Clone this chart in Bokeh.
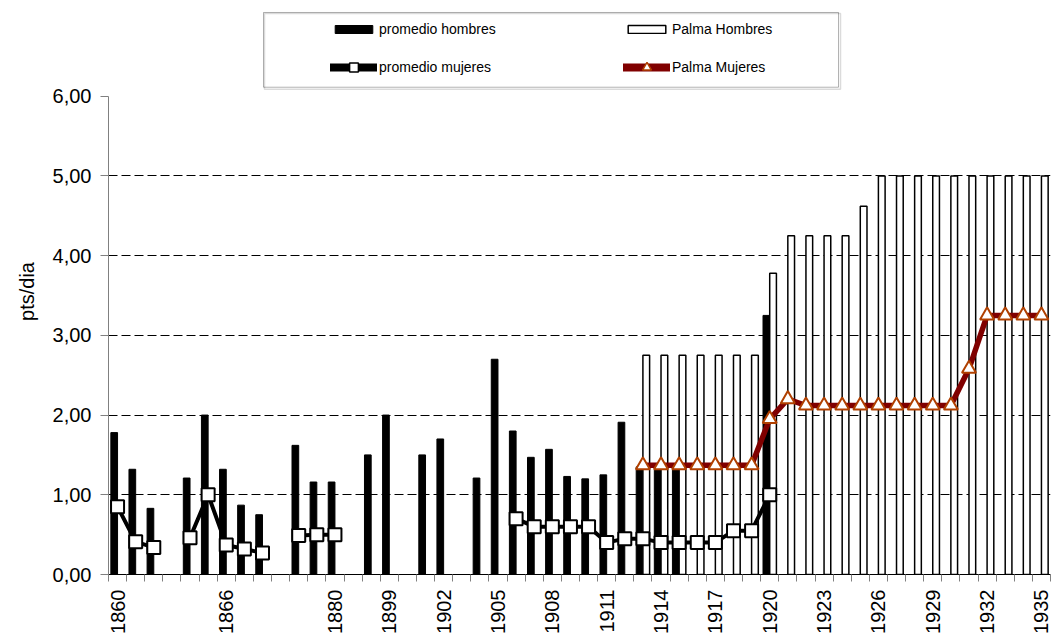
import math
from bokeh.plotting import figure
from bokeh.models import (ColumnDataSource, FixedTicker, Legend, LegendItem,
                          BoxAnnotation, Range1d)
from bokeh.transform import dodge
from bokeh.embed import file_html
from bokeh.resources import INLINE

nan = float("nan")

# ---------------- data ----------------
years = ["1860", "1861", "1862", "", "1864", "1865", "1866", "1867", "1868", "",
         "1878", "1879", "1880", "",
         "1898", "1899", "1900", "1901", "1902", "1903", "1904", "1905", "1906",
         "1907", "1908", "1909", "1910", "1911", "1912", "1913", "1914", "1915",
         "1916", "1917", "1918", "1919", "1920", "1921", "1922", "1923", "1924",
         "1925", "1926", "1927", "1928", "1929", "1930", "1931", "1932", "1933",
         "1934", "1935"]

promedio_hombres = [1.78, 1.32, 0.83, None, 1.21, 2.00, 1.32, 0.87, 0.75, None,
                    1.62, 1.16, 1.16, None,
                    1.50, 2.00, None, 1.50, 1.70, None, 1.21, 2.70, 1.80,
                    1.47, 1.57, 1.23, 1.20, 1.25, 1.91, 1.35, 1.35, 1.35,
                    None, None, None, None, 3.25, None, None, None, None,
                    None, None, None, None, None, None, None, None, None,
                    None, None]

palma_hombres = [None, None, None, None, None, None, None, None, None, None,
                 None, None, None, None,
                 None, None, None, None, None, None, None, None, None,
                 None, None, None, None, None, None, 2.75, 2.75, 2.75,
                 2.75, 2.75, 2.75, 2.75, 3.78, 4.25, 4.25, 4.25, 4.25,
                 4.62, 5.00, 5.00, 5.00, 5.00, 5.00, 5.00, 5.00, 5.00,
                 5.00, 5.00]

promedio_mujeres = [0.85, 0.41, 0.34, None, 0.46, 1.00, 0.37, 0.32, 0.27, None,
                    0.49, 0.50, 0.50, None,
                    None, None, None, None, None, None, None, None, 0.70,
                    0.60, 0.60, 0.60, 0.60, 0.40, 0.45, 0.45, 0.40, 0.40,
                    0.40, 0.40, 0.55, 0.55, 1.00, None, None, None, None,
                    None, None, None, None, None, None, None, None, None,
                    None, None]

palma_mujeres = [None, None, None, None, None, None, None, None, None, None,
                 None, None, None, None,
                 None, None, None, None, None, None, None, None, None,
                 None, None, None, None, None, None, 1.37, 1.37, 1.37,
                 1.37, 1.37, 1.37, 1.37, 1.95, 2.20, 2.12, 2.12, 2.12,
                 2.12, 2.12, 2.12, 2.12, 2.12, 2.12, 2.58, 3.25, 3.25,
                 3.25, 3.25]

y_ticks = [0, 1, 2, 3, 4, 5, 6]
y_tick_labels = ["0,00", "1,00", "2,00", "3,00", "4,00", "5,00", "6,00"]
label_every = 3

# ---------------- layout constants (canvas pixels) ----------------
W, H = 1055, 636
BORDER_L, BORDER_R, BORDER_T, BORDER_B = 108, 5, 8, 60
Y_TOP = 7.1
FONT = "Liberation Sans"
RED = "#800000"
TRI = "#B04000"

n = len(years)
idx = list(range(n))


def bar_source(vals):
    xs = [i for i, v in zip(idx, vals) if v is not None]
    ys = [v for v in vals if v is not None]
    return ColumnDataSource(dict(x=xs, top=ys))


def line_source(vals):
    return ColumnDataSource(dict(x=idx, y=[nan if v is None else v for v in vals]))


def pt_source(vals):
    xs = [i for i, v in zip(idx, vals) if v is not None]
    ys = [v for v in vals if v is not None]
    return ColumnDataSource(dict(x=xs, y=ys))


p = figure(width=W, height=H, output_backend="svg", toolbar_location=None,
           x_range=Range1d(-0.5, n - 0.5), y_range=Range1d(0, Y_TOP),
           min_border_left=BORDER_L, min_border_right=BORDER_R,
           min_border_top=BORDER_T, min_border_bottom=BORDER_B)
p.outline_line_color = None
p.background_fill_color = "white"
p.border_fill_color = "white"

# grid
p.xgrid.visible = False
p.ygrid.ticker = FixedTicker(ticks=y_ticks[1:-1])
p.ygrid.grid_line_color = "black"
p.ygrid.grid_line_dash = "9 4"
p.ygrid.grid_line_width = 1

# y axis
yax = p.yaxis[0]
yax.ticker = FixedTicker(ticks=y_ticks)
yax.major_label_overrides = {t: lab for t, lab in zip(y_ticks, y_tick_labels)}
yax.bounds = (y_ticks[0], y_ticks[-1])
yax.axis_line_color = "#808080"
yax.major_tick_line_color = "#808080"
yax.major_tick_in = 0
yax.major_tick_out = 8
yax.minor_tick_line_color = None
yax.major_label_standoff = 9
yax.major_label_text_font = FONT
yax.major_label_text_font_size = "20px"
yax.major_label_text_color = "black"
yax.axis_label = "pts/dia"
yax.axis_label_text_font = FONT
yax.axis_label_text_font_size = "20px"
yax.axis_label_text_font_style = "normal"
yax.axis_label_text_color = "black"
yax.axis_label_standoff = 12

# x axis
xax = p.xaxis[0]
label_idx = list(range(0, n, label_every))
xax.ticker = FixedTicker(ticks=label_idx, minor_ticks=[i - 0.5 for i in range(n + 1)])
xax.major_label_overrides = {i: years[i] for i in label_idx}
xax.axis_line_color = "black"
xax.major_tick_in = 0
xax.major_tick_out = 0
xax.minor_tick_in = 0
xax.minor_tick_out = 7
xax.minor_tick_line_color = "#808080"
xax.major_label_orientation = math.pi / 2
xax.major_label_standoff = 8
xax.major_label_text_font = FONT
xax.major_label_text_font_size = "20px"
xax.major_label_text_color = "black"

# bars
BW = 0.37
r_ph = p.vbar(x=dodge("x", -BW / 2, range=p.x_range), top="top", width=BW,
              source=bar_source(promedio_hombres), fill_color="black",
              line_color="black", line_width=1)
r_PH = p.vbar(x=dodge("x", BW / 2, range=p.x_range), top="top", width=BW,
              source=bar_source(palma_hombres), fill_color="white",
              line_color="black", line_width=1.5)

# lines
r_pm_l = p.line("x", "y", source=line_source(promedio_mujeres), line_color="black",
                line_width=4, line_join="round", line_cap="round")
r_PM_l = p.line("x", "y", source=line_source(palma_mujeres), line_color=RED,
                line_width=5.5, line_join="round", line_cap="round")
r_pm_m = p.scatter("x", "y", source=pt_source(promedio_mujeres), marker="square",
                   size=13, fill_color="white", line_color="black", line_width=2)
r_PM_m = p.scatter("x", "y", source=pt_source(palma_mujeres), marker="triangle",
                   size=14, fill_color="white", line_color=TRI, line_width=2)

# legend-only key renderers (a single undefined point: nothing is drawn in the plot)
key = ColumnDataSource(dict(x=[nan], y=[nan]))
k_pm_l = p.line("x", "y", source=key, line_color="black", line_width=8, line_cap="round")
k_PM_l = p.line("x", "y", source=key, line_color=RED, line_width=8, line_cap="round")
k_pm_m = p.scatter("x", "y", source=key, marker="square", fill_color="white",
                   line_color="black", line_width=1.5)
k_PM_m = p.scatter("x", "y", source=key, marker="triangle", fill_color="white",
                   line_color=TRI, line_width=1.5)

# legend box (layout, canvas pixels converted to data space)
FR_L, FR_R = BORDER_L, W - BORDER_R
FR_T, FR_B = BORDER_T, H - BORDER_B


def px_x(px):
    return -0.5 + (px - FR_L) / (FR_R - FR_L) * n


def px_y(py):
    return (FR_B - py) / (FR_B - FR_T) * Y_TOP


p.add_layout(BoxAnnotation(left=px_x(264), right=px_x(840), top=px_y(13), bottom=px_y(89),
                           fill_alpha=0, fill_color=None, line_color="#888888", line_width=1.5))
p.add_layout(BoxAnnotation(left=px_x(263), right=px_x(838), top=px_y(12), bottom=px_y(87),
                           fill_alpha=0, fill_color=None, line_color="black", line_width=1))

common = dict(orientation="horizontal", ncols=2, glyph_width=47, label_standoff=2,
              label_width=226, spacing=18, padding=0, margin=0, label_height=20,
              border_line_alpha=0, background_fill_alpha=0,
              label_text_font=FONT, label_text_font_size="14px", label_text_color="black")

legend_bars = Legend(items=[
    LegendItem(label="promedio hombres", renderers=[r_ph]),
    LegendItem(label="Palma Hombres", renderers=[r_PH]),
], location=(222, 535), glyph_height=10, **common)

legend_lines = Legend(items=[
    LegendItem(label="promedio mujeres", renderers=[k_pm_l, k_pm_m]),
    LegendItem(label="Palma Mujeres", renderers=[k_PM_l, k_PM_m]),
], location=(222, 496), glyph_height=22, **common)

p.add_layout(legend_bars)
p.add_layout(legend_lines)

open("out.html", "w").write(file_html(p, INLINE))
